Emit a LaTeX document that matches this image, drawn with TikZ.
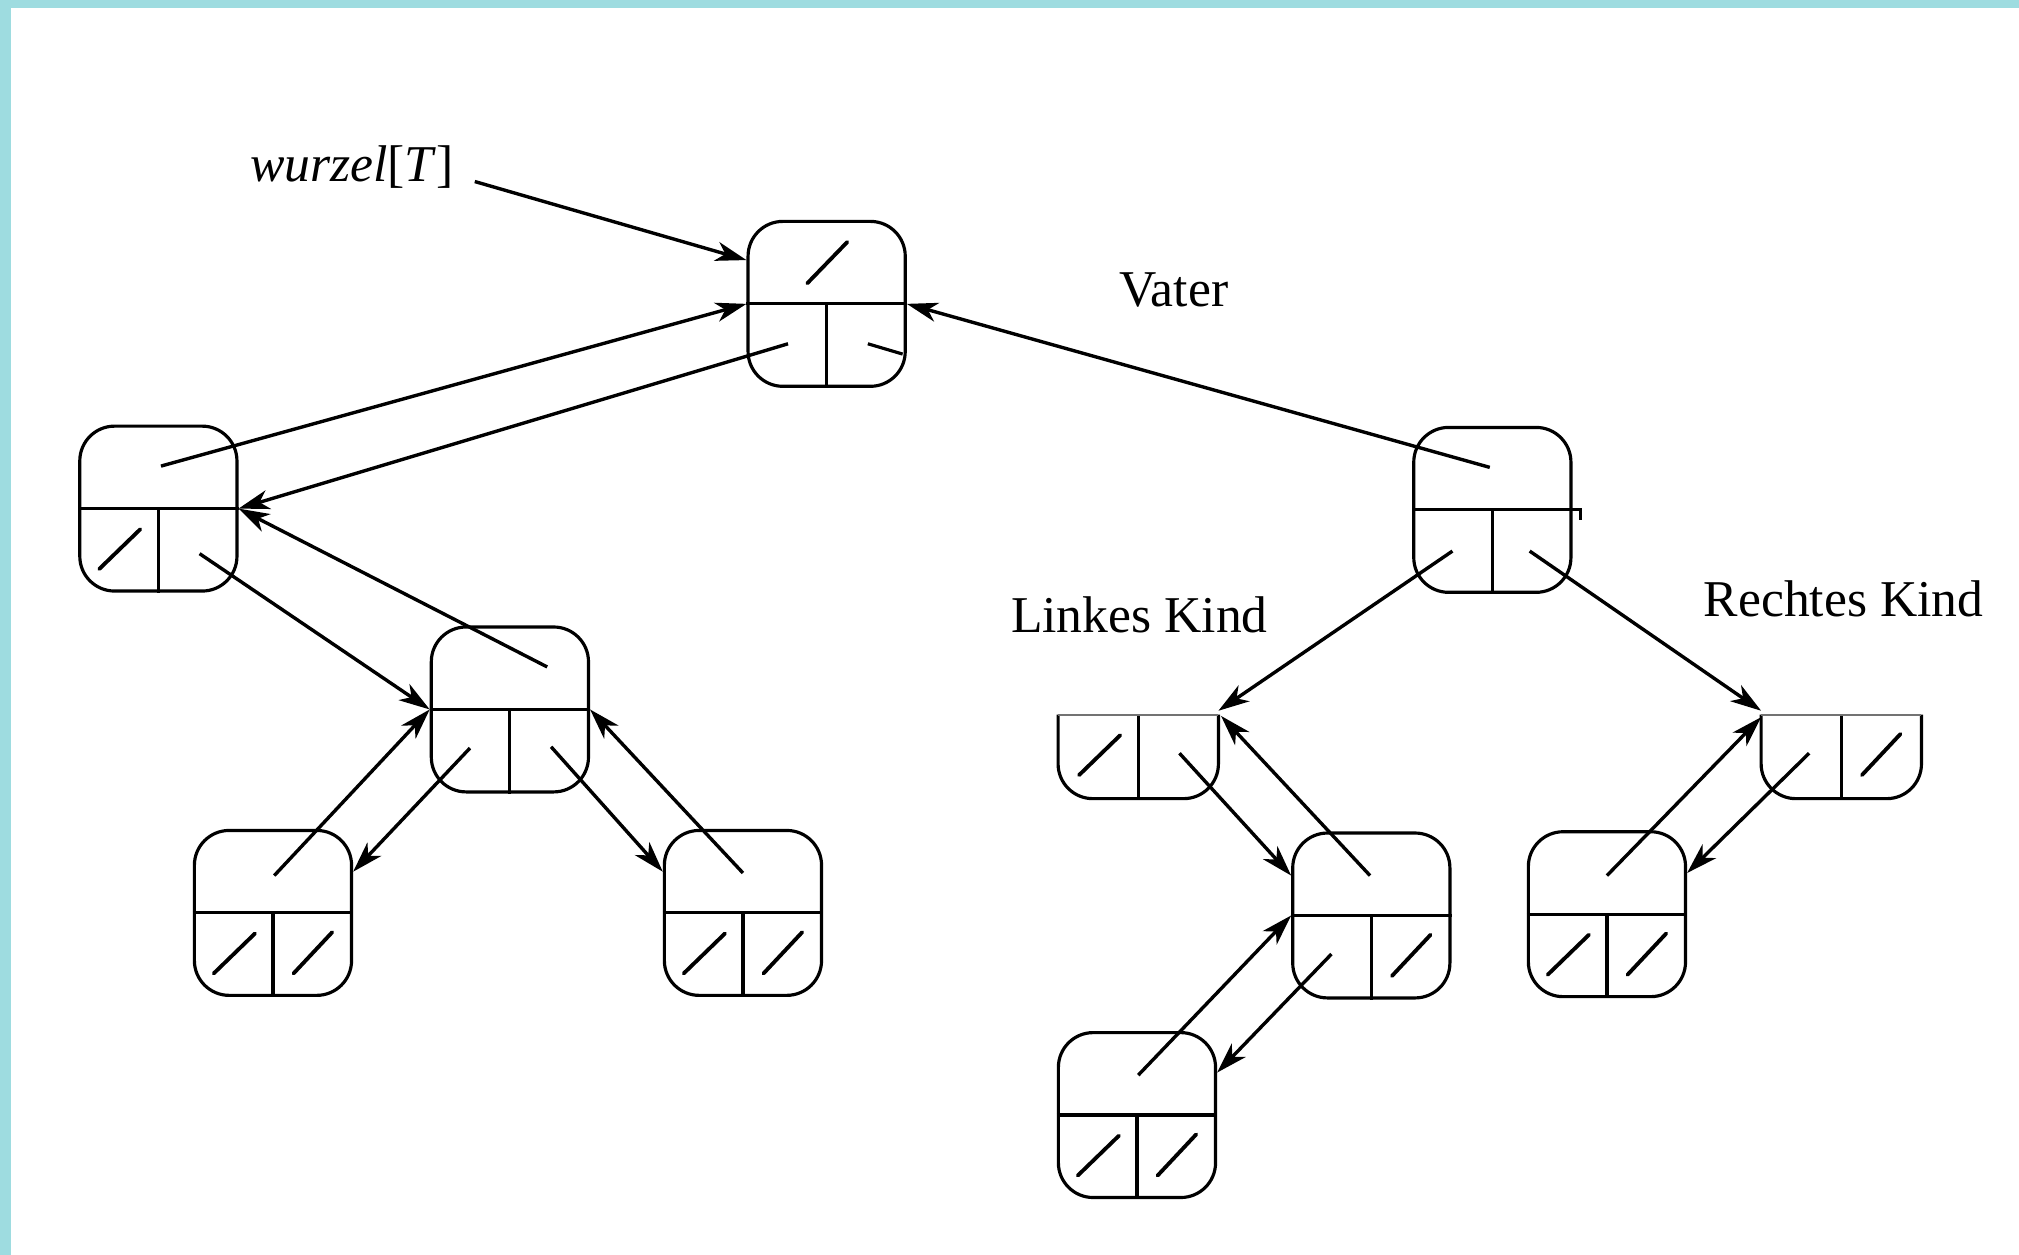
\documentclass[tikz,border=0pt]{standalone}
\usepackage{fontspec}
\setmainfont{Liberation Serif}
\usetikzlibrary{arrows.meta,calc}
\definecolor{bgteal}{RGB}{158,220,224}
\newcommand\NilL[1]{\draw[nil] ($(#1)+(-46,47)$) -- ($(#1)+(-14,16)$);}
\newcommand\NilR[1]{\draw[nil] ($(#1)+(16,47)$) -- ($(#1)+(46,15)$);}
\newcommand\NilT[1]{\draw[nil] ($(#1)+(-15,-16)$) -- ($(#1)+(16,-48)$);}
\tikzset{
  rec/.style={draw, rounded corners=0.27cm, minimum width=1.22cm, minimum height=1.28cm, inner sep=0pt},
  halfrec/.style={minimum width=1.22cm, minimum height=1.28cm, inner sep=0pt},
  arr/.style={-{Stealth[length=0.24cm,width=0.15cm,inset=0.07cm]}, line width=0.75pt},
  nil/.style={line width=0.85pt, line cap=round},
  lbl/.style={font=\fontsize{11.4}{13}\selectfont, inner sep=0pt, anchor=base west},
}
\begin{document}
\begin{tikzpicture}[x=0.01cm, y=-0.01cm, line width=0.7pt]
\fill[bgteal] (0,0) rectangle (1568,974.6);
\fill[white] (8.5,6.2) rectangle (1568,974.6);
\useasboundingbox (0,0) rectangle (1568,974.6);

% nodes
\node[rec] (root) at (642,236) {};
\node[rec] (A) at (123,395) {};
\node[rec] (B) at (396,551) {};
\node[rec] (C) at (212,709) {};
\node[rec] (D) at (577,709) {};
\node[rec] (R) at (1159,396) {};
\node[halfrec] (RL) at (884,555) {};
\node[halfrec] (RR) at (1430,555) {};
\node[rec] (RLR) at (1065,711) {};
\node[rec] (RLRL) at (883,866) {};
\node[rec] (RRL) at (1248,710) {};

\foreach \n in {root,A,B,C,D,R,RLR,RLRL,RRL} {
  \draw (\n.west) -- (\n.east) (\n.center) -- (\n.south);
}
\foreach \n in {RL,RR} {
  \draw[rounded corners=0.27cm] (\n.west) -- (\n.south west) -- (\n.south east) -- (\n.east);
  \draw (\n.center) -- (\n.south);
  \draw[line width=0.4pt, black!55] (\n.west) -- (\n.east);
}
\draw (R.east) -- ++(6,0) -- ++(0,8);

% NIL markers
\NilT{root}
\NilL{A}
\NilL{C}\NilR{C}
\NilL{D}\NilR{D}
\NilL{RL}
\NilR{RR}
\NilR{RLR}
\NilL{RLRL}\NilR{RLRL}
\NilL{RRL}\NilR{RRL}

% labels
\node[lbl] (W) at (193,141) {\textit{wurzel}[\textit{T}]};
\node[lbl] (V) at (868,238) {Vater};
\node[lbl] (LK) at (784,491) {Linkes Kind};
\node[lbl] (RK) at (1322,479) {Rechtes Kind};

% pointers
\draw[arr] ($(W.base east)+(15,0)$) -- ($(root.west)+(0,-34)$);
\draw[arr] ($(A)+(2,-33)$) -- (root.west);
\draw[arr] ($(root)+(-30,31)$) -- (A.east);
\draw[arr] ($(R)+(-2,-33)$) -- (root.east);
\draw ($(root)+(32,31)$) -- ($(root)+(59,39)$);
\draw[arr] ($(A)+(32,35)$) -- (B.west);
\draw[arr] ($(B)+(29,-33)$) -- (A.east);
\draw[arr] ($(B)+(-31,30)$) -- ($(C.east)+(0,-32)$);
\draw[arr] ($(C)+(1,-29)$) -- (B.west);
\draw[arr] ($(B)+(32,29)$) -- ($(D.west)+(0,-32)$);
\draw[arr] ($(D)+(0,-31)$) -- (B.east);
\draw[arr] ($(R)+(-31,32)$) -- ($(RL.east)+(0,-3)$);
\draw[arr] ($(R)+(29,32)$) -- ($(RR.west)+(0,-3)$);
\draw[arr] ($(RL)+(32,30)$) -- ($(RLR.west)+(0,-31)$);
\draw[arr] ($(RLR)+(-1,-31)$) -- ($(RL.east)+(2,1)$);
\draw[arr] ($(RLR)+(-31,30)$) -- ($(RLRL.east)+(0,-33)$);
\draw[arr] ($(RLRL)+(1,-31)$) -- (RLR.west);
\draw[arr] ($(RR)+(-25,30)$) -- ($(RRL.east)+(0,-32)$);
\draw[arr] ($(RRL)+(0,-30)$) -- ($(RR.west)+(0,2)$);
\end{tikzpicture}
\end{document}
